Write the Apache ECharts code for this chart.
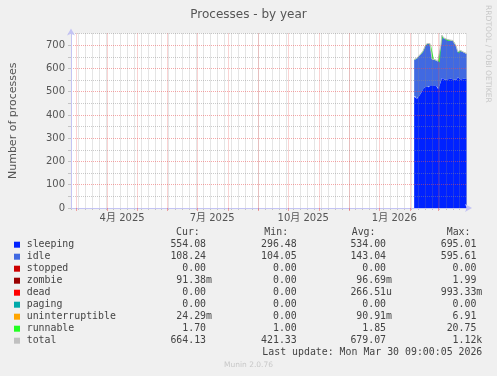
<!DOCTYPE html>
<html>
<head>
<meta charset="utf-8">
<script src="https://cdn.jsdelivr.net/npm/echarts@6/dist/echarts.min.js"></script>
<style>
    html, body { margin: 0; padding: 0; background: #f0f0f0; }
    #myChart { width: 497px; height: 376px; }
</style>
</head>
<body>
<div id="myChart"></div>
<script>
    // daily values, first day = 2026-02-05
    const firstDay = [2026, 1, 5]
    const sleeping = [478, 481, 472, 470, 470, 478, 488, 495, 502, 512, 519, 520, 522, 524, 521, 519, 528, 527,
        526, 528, 527, 526, 527, 522, 512, 509, 531, 545, 559, 554, 552, 551, 556, 559, 553, 548,
        549, 556, 559, 553, 552, 551, 553, 552, 562, 560, 555, 552, 553, 551, 555, 552, 553, 554]
    const idle = [158, 158, 169, 173, 176, 175, 170, 167, 163, 161, 160, 174, 179, 181, 185, 186, 177, 173,
        112, 108, 109, 110, 108, 112, 118, 120, 95, 153, 182, 180, 177, 173, 166, 164, 167, 170,
        171, 166, 161, 165, 163, 159, 145, 134, 108, 105, 118, 123, 117, 118, 113, 114, 111, 108]
    const runnable = [1.9, 1.9, 1.8, 1.8, 1.9, 1.9, 1.8, 1.9, 1.9, 1.8, 1.9, 1.9, 1.8, 1.9, 1.9, 1.8, 1.9, 1.9,
        1.8, 1.9, 1.9, 1.8, 1.9, 1.9, 1.8, 1.9, 1.9, 1.8, 1.9, 1.9, 1.8, 1.9, 1.9, 1.8, 1.9, 1.9,
        1.8, 1.9, 1.9, 1.8, 1.9, 1.9, 1.8, 1.9, 1.9, 1.8, 1.9, 1.9, 1.8, 1.9, 1.9, 1.8, 1.7, 1.7]
    const total = [638, 641, 643, 645, 648, 655, 660, 664, 667, 675, 681, 696, 703, 707, 708, 707, 707, 702,
        640, 638, 638, 638, 637, 636, 632, 631, 628, 700, 743, 736, 731, 726, 724, 725, 722, 720,
        722, 724, 722, 720, 717, 712, 700, 688, 672, 667, 675, 677, 672, 671, 670, 668, 666, 664]

    // axis range: 400 days up to last update
    const rangeStart = [2025, 1, 23, 9]
    const rangeEnd = [2026, 2, 30, 9]
    const yTicks = [0, 100, 200, 300, 400, 500, 600, 700]

    // legend table
    const legendNames = ['sleeping', 'idle', 'stopped', 'zombie', 'dead', 'paging', 'uninterruptible', 'runnable', 'total']
    const legendColors = ['#0022ff', '#4169e1', '#cc0000', '#990000', '#ff0000', '#00aaaa', '#ffa500', '#22ff22', '#c0c0c0']
    const curVals = ['554.08 ', '108.24 ', '0.00 ', '91.38m', '0.00 ', '0.00 ', '24.29m', '1.70 ', '664.13 ']
    const minVals = ['296.48 ', '104.05 ', '0.00 ', '0.00 ', '0.00 ', '0.00 ', '0.00 ', '1.00 ', '421.33 ']
    const avgVals = ['534.00 ', '143.04 ', '0.00 ', '96.69m', '266.51u', '0.00 ', '90.91m', '1.85 ', '679.07 ']
    const maxVals = ['695.01 ', '595.61 ', '0.00 ', '1.99 ', '993.33m', '0.00 ', '6.91 ', '20.75 ', '1.12k']
    const lastUpdate = 'Last update: Mon Mar 30 09:00:05 2026'

    const tMin = new Date(...rangeStart).getTime()
    const tMax = new Date(...rangeEnd).getTime()

    function dayTime(i) {
        return new Date(firstDay[0], firstDay[1], firstDay[2] + i).getTime()
    }
    function pairs(arr) {
        return arr.map((v, i) => [dayTime(i), v])
    }

    // month starts (major grid), mondays (minor grid), labels in mid-month every 3 months
    let monthTicks = []
    for (let m = 2; m <= 14; m++) monthTicks.push(new Date(2025, m, 1).getTime())
    let weekTicks = []
    for (let t = new Date(2025, 1, 24); t.getTime() <= tMax; t = new Date(t.getFullYear(), t.getMonth(), t.getDate() + 7)) {
        weekTicks.push(t.getTime())
    }
    let labelDates = []
    for (let m = 3; m <= 12; m += 3) labelDates.push(new Date(2025, m, 16).getTime())

    const FONT = '"DejaVu Sans", "Noto Sans CJK SC", sans-serif'
    const MONO = '"DejaVu Sans Mono", monospace'
    const majorGrid = 'rgba(235, 80, 80, 0.5)'
    const minorGrid = 'rgba(140, 140, 140, 0.45)'
    const axisColor = '#c4c4f4'

    function areaSeries(name, data, color) {
        return {
            name: name,
            type: 'line',
            stack: 'procs',
            data: pairs(data),
            showSymbol: false,
            lineStyle: {width: 0},
            areaStyle: {color: color, opacity: 1},
            color: color
        }
    }

    // legend as text
    let graphics = []
    const rowY = 244.7, rowH = 12
    const headers = [['Cur:', 176], ['Min:', 264.3], ['Avg:', 351.7], ['Max:', 446.7]]
    headers.forEach(h => {
        graphics.push({type: 'text', x: h[1], y: rowY - rowH, style: {text: h[0], font: '9.9px ' + MONO, fill: '#444', verticalAlign: 'middle'}})
    })
    legendNames.forEach((n, i) => {
        let y = rowY + i * rowH
        graphics.push({type: 'rect', shape: {x: 14, y: y - 3, width: 6, height: 6}, style: {fill: legendColors[i]}})
        graphics.push({type: 'text', x: 26.7, y: y, style: {text: n, font: '9.9px ' + MONO, fill: '#444', verticalAlign: 'middle'}})
        const cols = [[curVals, 212], [minVals, 302.7], [avgVals, 392], [maxVals, 482.3]]
        cols.forEach(c => {
            graphics.push({type: 'text', x: c[1], y: y, style: {text: c[0][i], font: '9.9px ' + MONO, fill: '#444', align: 'right', verticalAlign: 'middle'}})
        })
    })
    graphics.push({type: 'text', x: 482.3, y: rowY + 9 * rowH - 0.4, style: {text: lastUpdate, font: '9.9px ' + MONO, fill: '#444', align: 'right', verticalAlign: 'middle'}})
    graphics.push({type: 'text', x: 248.5, y: 365, style: {text: 'Munin 2.0.76', font: '7.5px ' + FONT, fill: '#c8c8c8', align: 'center', verticalAlign: 'middle'}})
    graphics.push({type: 'text', x: 487.5, y: 5, rotation: -Math.PI / 2,
        style: {text: 'RRDTOOL / TOBI OETIKER', font: '7.6px ' + FONT, fill: '#c8c8c8', align: 'left', verticalAlign: 'middle'}})

    let opt = {
        backgroundColor: '#f0f0f0',
        animation: false,
        title: {
            text: 'Processes - by year',
            left: 'center',
            top: 4,
            textStyle: {fontSize: 12, fontWeight: 'normal', color: '#555', fontFamily: FONT}
        },
        grid: {left: 67, right: 30, top: 33.5, bottom: 168, show: true, backgroundColor: '#fff', borderWidth: 0},
        xAxis: [
            {
                // time axis the series sit on, drawn by the two axes below
                type: 'time',
                position: 'bottom',
                min: tMin,
                max: tMax,
                axisLine: {show: false},
                axisTick: {show: false},
                axisLabel: {show: false},
                splitLine: {show: false}
            },
            {
                type: 'value',
                position: 'bottom',
                min: tMin,
                max: tMax,
                z: 5,
                axisLine: {lineStyle: {color: axisColor}, symbol: ['none', 'arrow'], symbolSize: [6, 7], symbolOffset: [0, 5]},
                axisTick: {customValues: monthTicks, length: 3, lineStyle: {color: majorGrid}},
                axisLabel: {
                    customValues: labelDates,
                    formatter: function (v) {
                        let d = new Date(v)
                        return (d.getMonth() + 1) + '月 ' + d.getFullYear()
                    },
                    color: '#555',
                    fontSize: 10,
                    fontFamily: FONT,
                    margin: 5
                },
                splitLine: {show: true, lineStyle: {color: majorGrid, type: [1, 1]}}
            },
            {
                type: 'value',
                position: 'bottom',
                min: tMin,
                max: tMax,
                z: 4,
                axisLine: {show: false},
                axisLabel: {show: false},
                axisTick: {customValues: weekTicks, length: 2, lineStyle: {color: minorGrid}},
                splitLine: {show: true, lineStyle: {color: minorGrid, type: [1, 1]}}
            }
        ],
        yAxis: {
            type: 'value',
            min: 0,
            max: 750,
            interval: 50,
            z: 5,
            name: 'Number of processes',
            nameLocation: 'middle',
            nameGap: 52,
            nameTextStyle: {color: '#555', fontSize: 11, fontFamily: FONT},
            axisLine: {show: true, lineStyle: {color: axisColor}, symbol: ['none', 'arrow'], symbolSize: [6, 7], symbolOffset: [0, 5]},
            axisTick: {show: true, length: 3, lineStyle: {color: minorGrid}},
            axisLabel: {
                formatter: v => yTicks.indexOf(v) >= 0 ? String(v) : '',
                color: '#555',
                fontSize: 10,
                fontFamily: FONT,
                margin: 6
            },
            splitLine: {show: true, lineStyle: {color: [majorGrid, minorGrid], type: [1, 1]}}
        },
        graphic: graphics,
        series: [
            areaSeries('sleeping', sleeping, '#0022ff'),
            areaSeries('idle', idle, '#4169e1'),
            areaSeries('runnable', runnable, '#22ff22'),
            {
                name: 'total',
                type: 'line',
                data: pairs(total),
                showSymbol: false,
                color: '#c0c0c0',
                lineStyle: {width: 1, color: '#c0c0c0'}
            }
        ]
    }

    let myChart = echarts.init(document.getElementById('myChart'))
    myChart.setOption(opt)
</script>
</body>
</html>
